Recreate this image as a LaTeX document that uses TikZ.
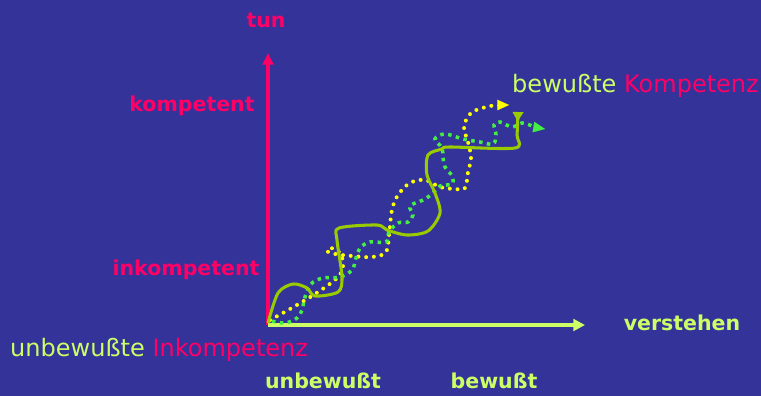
\documentclass[tikz,border=0pt]{standalone}
\usepackage{fontspec}
\setmainfont{DejaVu Sans}
\usetikzlibrary{arrows.meta,positioning}

\definecolor{bgblue}{HTML}{333399}
\definecolor{hotpink}{HTML}{FF0066}
\definecolor{limetext}{HTML}{CCFF66}
\definecolor{olivecurve}{HTML}{99CC00}
\definecolor{dotyellow}{HTML}{FFFF00}
\definecolor{squaregreen}{HTML}{44EE44}

\tikzset{
    lbl/.style={font=\bfseries\fontsize{17.5}{20}\selectfont, inner sep=0pt},
    bigtext/.style={font=\fontsize{20.5}{24}\selectfont, inner sep=0pt},
    yellowdots/.style={dotyellow, line width=3.4pt, line cap=round, dash pattern=on 0pt off 6.6pt},
    greensquares/.style={squaregreen, line width=3pt, line cap=butt, dash pattern=on 3pt off 3.8pt},
    olivepath/.style={olivecurve, line width=2.6pt, line join=round}
}

\begin{document}
\begin{tikzpicture}[x=0.03cm, y=-0.03cm]
    \fill[bgblue] (0,0) rectangle (761,396);
    \useasboundingbox (0,0) rectangle (761,396);

    % axes
    \coordinate (origin) at (268,325);
    \coordinate (tunend) at (268,53);
    \coordinate (verstehenend) at (585,325);
    \draw[hotpink, line width=2.8pt, -{Triangle[length=10pt, width=9pt]}] (origin) -- (tunend);
    \draw[limetext, line width=3.2pt, -{Triangle[length=10pt, width=10pt]}] (origin) -- (verstehenend);

    % labels
    \node[lbl, text=hotpink] (tun) at (266,20) {tun};
    \node[lbl, text=hotpink] (kompetent) at (192,106) {kompetent};
    \node[lbl, text=hotpink] (inkompetent) at (186,270) {inkompetent};
    \node[lbl, text=limetext] (verstehen) at (682,323) {verstehen};
    \node[lbl, text=limetext] (unbewusst) at (323,381) {unbewußt};
    \node[lbl, text=limetext] (bewusst) at (494,381) {bewußt};
    \node[bigtext, anchor=west] (inkompetenz) at (10,350) {\textcolor{limetext}{unbewußte} \textcolor{hotpink}{Inkompetenz}};
    \node[bigtext, anchor=west] (kompetenz) at (512,86) {\textcolor{limetext}{bewußte} \textcolor{hotpink}{Kompetenz}};

    % yellow dotted spiral
    \draw[yellowdots] plot[smooth, tension=0.6] coordinates {
        (270,320) (290,309) (315,294) (337,278) (343,266) (340,253) (331,248)
        (327,251) (335,254) (352,256) (372,257) (386,252) (389,235) (392,210)
        (398,195) (410,183) (425,180) (440,187) (455,189) (465,188) (468,172)
        (471,158) (468,142) (464,127) (471,113) (486,107) (497,105)};
    \draw[dotyellow, line width=0.1pt, -{Triangle[length=10pt, width=9pt]}] (497,105) -- (509,105);

    % green square dotted spiral
    \draw[greensquares] plot[smooth, tension=0.6] coordinates {
        (272,321) (285,323) (297,318) (302,310) (305,297) (311,284) (323,278)
        (340,277) (352,270) (356,258) (360,248) (370,242) (386,242) (389,232)
        (398,223) (408,222) (413,215) (410,206) (423,200) (432,194) (440,186)
        (452,184) (452,176) (445,167) (443,157) (442,148) (435,139) (445,134)
        (463,139) (480,142) (493,144) (496,135) (494,125) (500,122) (512,127)
        (522,123) (532,126)};
    \draw[squaregreen, line width=0.1pt, -{Triangle[length=10pt, width=9pt]}] (533,127) -- (545,129);

    % olive solid spiral
    \draw[olivepath, -{Triangle[reversed, length=8pt, width=9pt]}] plot[smooth, tension=0.5] coordinates {
        (268,323) (278,293) (293,284) (307,288) (315,296) (338,292) (342,277)
        (337,240) (339,228) (377,225) (387,230) (407,235) (428,231) (440,213)
        (435,193) (427,175) (428,155) (442,149) (450,147) (515,148) (517,135)
        (518,112)};
\end{tikzpicture}
\end{document}
